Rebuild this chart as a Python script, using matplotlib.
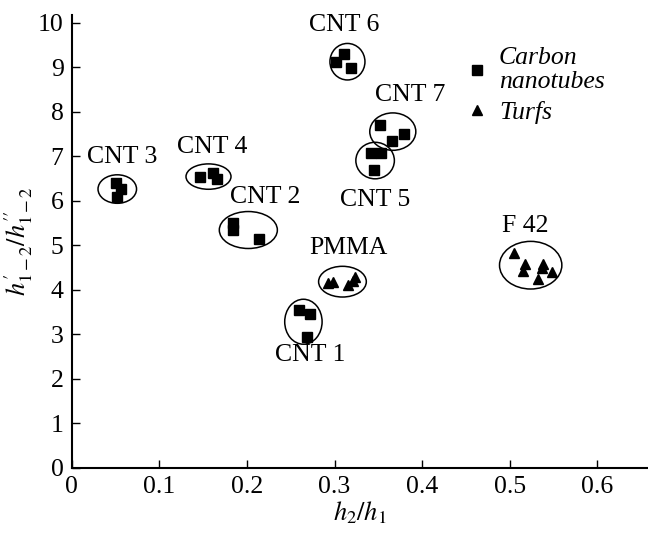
import matplotlib
matplotlib.use("Agg")
import matplotlib.pyplot as plt
from matplotlib.patches import Ellipse
from matplotlib.lines import Line2D

plt.rcParams["font.family"] = ["Liberation Serif", "DejaVu Serif"]
plt.rcParams["mathtext.fontset"] = "stix"

# measured points, grouped by sample
CNT_NAMES = ["CNT 1", "CNT 2", "CNT 3", "CNT 4", "CNT 5", "CNT 6", "CNT 7"]
CNT_X = [
    [0.259, 0.272, 0.269],
    [0.184, 0.184, 0.214],
    [0.050, 0.056, 0.052],
    [0.146, 0.161, 0.166],
    [0.342, 0.353, 0.345],
    [0.302, 0.311, 0.319],
    [0.352, 0.379, 0.366],
]
CNT_Y = [
    [3.54, 3.45, 2.93],
    [5.49, 5.34, 5.13],
    [6.40, 6.26, 6.09],
    [6.53, 6.63, 6.48],
    [7.08, 7.07, 6.69],
    [9.12, 9.30, 8.97],
    [7.70, 7.50, 7.34],
]

TURF_NAMES = ["PMMA", "F 42"]
TURF_X = [
    [0.292, 0.298, 0.315, 0.321, 0.323],
    [0.505, 0.517, 0.515, 0.538, 0.537, 0.548, 0.532],
]
TURF_Y = [
    [4.16, 4.18, 4.11, 4.20, 4.28],
    [4.83, 4.58, 4.43, 4.58, 4.48, 4.40, 4.23],
]

# ellipse (center x, center y, width, height) and label position per group
ELLIPSES = {
    "CNT 1": (0.2644, 3.28, 0.0427, 1.01),
    "CNT 2": (0.2015, 5.34, 0.0663, 0.83),
    "CNT 3": (0.0518, 6.26, 0.044, 0.64),
    "CNT 4": (0.156, 6.54, 0.0514, 0.57),
    "CNT 5": (0.3463, 6.90, 0.044, 0.82),
    "CNT 6": (0.3147, 9.12, 0.040, 0.82),
    "CNT 7": (0.3665, 7.55, 0.0526, 0.84),
    "PMMA": (0.309, 4.18, 0.0545, 0.69),
    "F 42": (0.524, 4.55, 0.0712, 1.07),
}
LABELS = {
    "CNT 1": (0.272, 2.53),
    "CNT 2": (0.2206, 6.08),
    "CNT 3": (0.057, 6.98),
    "CNT 4": (0.1606, 7.21),
    "CNT 5": (0.346, 6.01),
    "CNT 6": (0.311, 9.95),
    "CNT 7": (0.386, 8.37),
    "PMMA": (0.316, 4.94),
    "F 42": (0.518, 5.42),
}

fig = plt.figure(figsize=(6.48, 5.34), dpi=100)
ax = fig.add_axes([0.111, 0.124, 0.889, 0.848])

for name, xs, ys in zip(CNT_NAMES, CNT_X, CNT_Y):
    ax.plot(xs, ys, ls="none", marker="s", ms=7.8, color="black", mec="black")
for name, xs, ys in zip(TURF_NAMES, TURF_X, TURF_Y):
    ax.plot(xs, ys, ls="none", marker="^", ms=7.8, color="black", mec="black")

for name, (cx, cy, w, h) in ELLIPSES.items():
    ax.add_patch(Ellipse((cx, cy), w, h, fill=False, ec="black", lw=1.1))
for name, (lx, ly) in LABELS.items():
    ax.text(lx, ly, name, ha="center", va="center", fontsize=18.5)

ax.set_xlim(0, 0.658)
ax.set_ylim(0, 10.17)
ax.set_xticks([0, 0.1, 0.2, 0.3, 0.4, 0.5, 0.6])
ax.set_xticklabels(["0", "0.1", "0.2", "0.3", "0.4", "0.5", "0.6"])
ax.set_yticks(range(0, 11))
ax.tick_params(direction="in", length=6, width=1.0, labelsize=18.5, pad=6)
for side in ("top", "right"):
    ax.spines[side].set_visible(False)
for side in ("left", "bottom"):
    ax.spines[side].set_linewidth(1.5)

ax.set_xlabel(r"$h_2/h_1$", fontsize=19, labelpad=1)
ax.set_ylabel(r"$h_{1-2}^{\prime}/h_{1-2}^{\prime\prime}$", fontsize=19, labelpad=2)

handles = [
    Line2D([], [], ls="none", marker="s", ms=6.5, color="black", label="Carbon\nnanotubes"),
    Line2D([], [], ls="none", marker="^", ms=6.5, color="black", label="Turfs"),
]
leg = ax.legend(handles=handles, loc="upper left", bbox_to_anchor=(0.65, 0.968),
                frameon=False, prop={"family": "Liberation Serif", "style": "italic", "size": 18.5},
                handletextpad=0.35, labelspacing=0.3, handlelength=1.0, borderpad=0.2)
for t in leg.get_texts():
    t.set_linespacing(1.1)

fig.savefig("out.png", dpi=100)
